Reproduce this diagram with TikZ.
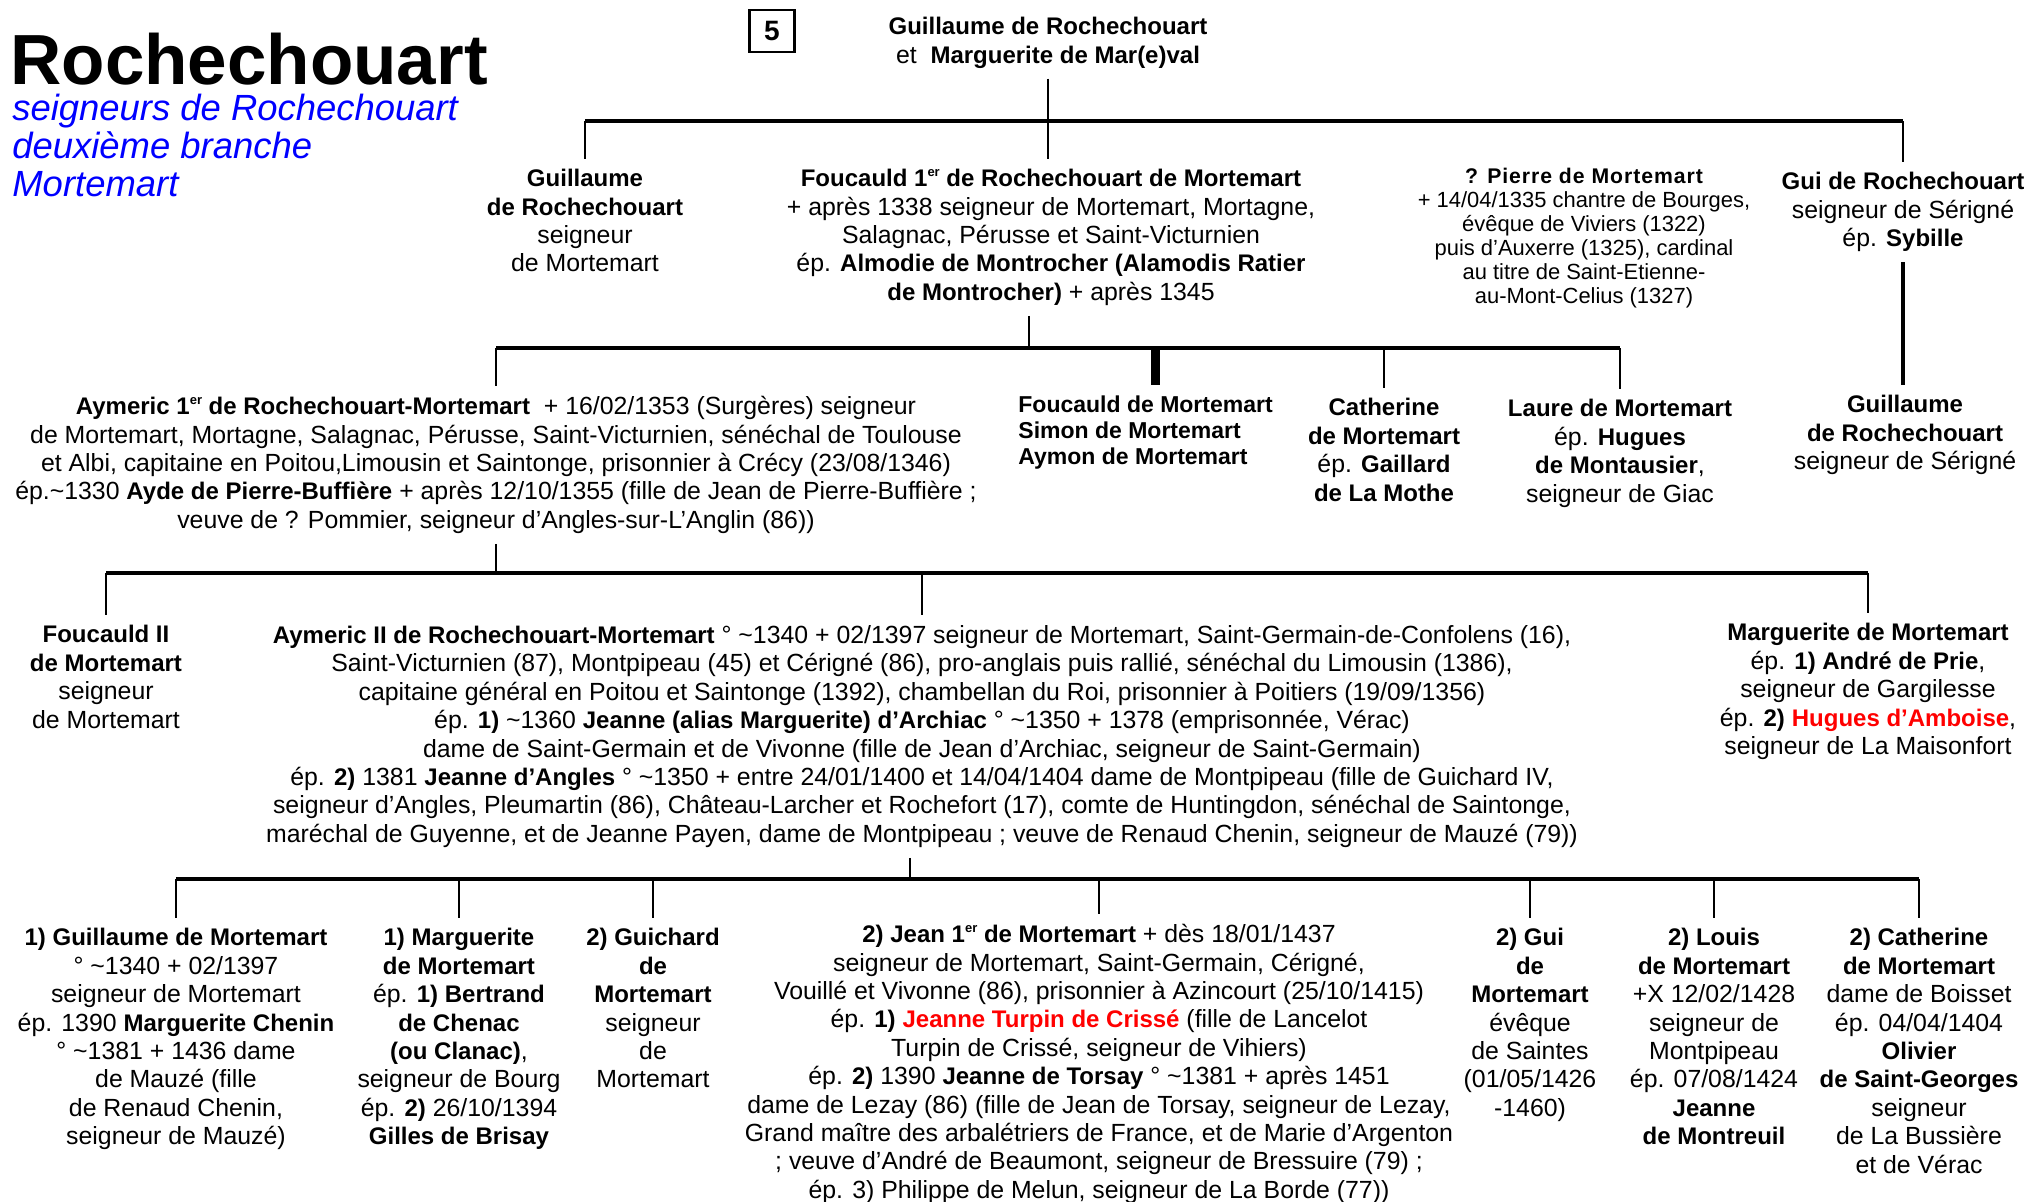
\documentclass[tikz,border=0pt]{standalone}
\usepackage{fontspec}
\setmainfont{Liberation Sans}[Scale=1.035,BoldFont={Liberation Sans Bold},BoldFeatures={Scale=1}]
\usetikzlibrary{calc}
\newcommand{\tld}{\textasciitilde}
\newcommand{\exps}[1]{\raisebox{0.42em}{\fontsize{6.5}{7}\selectfont #1}}

\begin{document}
\begin{tikzpicture}
   [x=0.5pt,y=-0.5pt,
    pers/.style={align=center,inner xsep=0pt,inner ysep=5pt,anchor=north,
        font=\fontsize{12}{14.2}\selectfont},
    small/.style={pers,font=\fontsize{10.6}{12}\selectfont},
    sub/.style={anchor=base west,inner sep=0pt,text=blue,
        font=\fontsize{17.6}{19}\selectfont\itshape},
    bar/.style={line width=2pt},
    drop/.style={line width=1.3pt}]
\useasboundingbox (0,0) rectangle (2024,1201);

\node [anchor=base west,inner sep=0pt,font=\fontsize{35.5}{38}\selectfont\bfseries] (ttl) at (10,84) {Rochechouart};
\node [sub] (s1) at (12,120) {seigneurs de Rochechouart};
\node [sub] (s2) at ($(s1.base west)+(0,38)$) {deuxième branche};
\node [sub] (s3) at ($(s2.base west)+(0,38)$) {Mortemart};
\node [draw,line width=1.2pt,minimum width=22.5pt,minimum height=21pt,font=\fontsize{14}{16}\selectfont\bfseries] (num) at (772,31) {5};

\node [pers] (couple) at (1048,7) {\textbf{Guillaume de Rochechouart}\\et\ \ \textbf{Marguerite de Mar(e)val}};

\node [pers] (g1) at (585,159) {\textbf{Guillaume}\\\textbf{de Rochechouart}\\seigneur\\de Mortemart};
\node [pers] (f1) at (1051,159) {\textbf{Foucauld 1\exps{er} de Rochechouart de Mortemart}\\
+ après 1338 seigneur de Mortemart, Mortagne,\\Salagnac, Pérusse et Saint-Victurnien\\
ép. \textbf{Almodie de Montrocher (Alamodis Ratier}\\\textbf{de Montrocher)} + après 1345};
\node [small] (p1) at (1584,158) {{\bfseries\addfontfeature{LetterSpace=4.5}? Pierre de Mortemart}\\+ 14/04/1335 chantre de Bourges,\\
évêque de Viviers (1322)\\puis d’Auxerre (1325), cardinal\\au titre de Saint-Etienne-\\au-Mont-Celius (1327)};
\node [pers] (gui1) at (1903,162) {\textbf{Gui de Rochechouart}\\seigneur de Sérigné\\ép. \textbf{Sybille}};
\node [pers] (gs) at (1905,385) {\textbf{Guillaume}\\\textbf{de Rochechouart}\\seigneur de Sérigné};

\node [pers] (a1) at (496,386) {\textbf{Aymeric 1\exps{er} de Rochechouart-Mortemart}\ \ + 16/02/1353 (Surgères) seigneur\\
de Mortemart, Mortagne, Salagnac, Pérusse, Saint-Victurnien, sénéchal de Toulouse\\
et Albi, capitaine en Poitou,Limousin et Saintonge, prisonnier à Crécy (23/08/1346)\\
ép.\tld 1330 \textbf{Ayde de Pierre-Buffière} + après 12/10/1355 (fille de Jean de Pierre-Buffière ;\\
veuve de ? Pommier, seigneur d’Angles-sur-L’Anglin (86))};
\node [pers,anchor=north west,align=left,font=\fontsize{11.5}{13}\selectfont\bfseries] (fsa) at (1018,385)
{Foucauld de Mortemart\\Simon de Mortemart\\Aymon de Mortemart};
\node [pers] (c1) at (1384,388) {\textbf{Catherine}\\\textbf{de Mortemart}\\ép. \textbf{Gaillard}\\\textbf{de La Mothe}};
\node [pers] (l1) at (1620,389) {\textbf{Laure de Mortemart}\\ép. \textbf{Hugues}\\\textbf{de Montausier},\\seigneur de Giac};

\node [pers] (f2) at (106,615) {\textbf{Foucauld II}\\\textbf{de Mortemart}\\seigneur\\de Mortemart};
\node [pers] (a2) at (922,615) {\textbf{Aymeric II de Rochechouart-Mortemart} ° \tld1340 + 02/1397 seigneur de Mortemart, Saint-Germain-de-Confolens (16),\\
Saint-Victurnien (87), Montpipeau (45) et Cérigné (86), pro-anglais puis rallié, sénéchal du Limousin (1386),\\
capitaine général en Poitou et Saintonge (1392), chambellan du Roi, prisonnier à Poitiers (19/09/1356)\\
ép. \textbf{1)} \tld1360 \textbf{Jeanne (alias Marguerite) d’Archiac} ° \tld1350 + 1378 (emprisonnée, Vérac)\\
dame de Saint-Germain et de Vivonne (fille de Jean d’Archiac, seigneur de Saint-Germain)\\
ép. \textbf{2)} 1381 \textbf{Jeanne d’Angles} ° \tld1350 + entre 24/01/1400 et 14/04/1404 dame de Montpipeau (fille de Guichard IV,\\
seigneur d’Angles, Pleumartin (86), Château-Larcher et Rochefort (17), comte de Huntingdon, sénéchal de Saintonge,\\
maréchal de Guyenne, et de Jeanne Payen, dame de Montpipeau ; veuve de Renaud Chenin, seigneur de Mauzé (79))};
\node [pers] (m2) at (1868,613) {\textbf{Marguerite de Mortemart}\\ép. \textbf{1) André de Prie},\\seigneur de Gargilesse\\
ép. \textbf{2)} \textcolor{red}{\textbf{Hugues d’Amboise}},\\seigneur de La Maisonfort};

\node [pers] (gm) at (176,918) {\textbf{1) Guillaume de Mortemart}\\° \tld1340 + 02/1397\\seigneur de Mortemart\\
ép. 1390 \textbf{Marguerite Chenin}\\° \tld1381 + 1436 dame\\de Mauzé (fille\\de Renaud Chenin,\\seigneur de Mauzé)};
\node [pers] (mm) at (459,918) {\textbf{1) Marguerite}\\\textbf{de Mortemart}\\ép. \textbf{1) Bertrand}\\\textbf{de Chenac}\\
\textbf{(ou Clanac)},\\seigneur de Bourg\\ép. \textbf{2)} 26/10/1394\\\textbf{Gilles de Brisay}};
\node [pers] (gch) at (653,918) {\textbf{2) Guichard}\\\textbf{de}\\\textbf{Mortemart}\\seigneur\\de\\Mortemart};
\node [pers] (jm) at (1099,914) {\textbf{2) Jean 1\exps{er} de Mortemart} + dès 18/01/1437\\
seigneur de Mortemart, Saint-Germain, Cérigné,\\Vouillé et Vivonne (86), prisonnier à Azincourt (25/10/1415)\\
ép. \textbf{1)} \textcolor{red}{\textbf{Jeanne Turpin de Crissé}} (fille de Lancelot\\Turpin de Crissé, seigneur de Vihiers)\\
ép. \textbf{2)} 1390 \textbf{Jeanne de Torsay} ° \tld1381 + après 1451\\
dame de Lezay (86) (fille de Jean de Torsay, seigneur de Lezay,\\Grand maître des arbalétriers de France, et de Marie d’Argenton\\
; veuve d’André de Beaumont, seigneur de Bressuire (79) ;\\ép. 3) Philippe de Melun, seigneur de La Borde (77))};
\node [pers] (gu) at (1530,918) {\textbf{2) Gui}\\\textbf{de}\\\textbf{Mortemart}\\évêque\\de Saintes\\(01/05/1426\\-1460)};
\node [pers] (lo) at (1714,918) {\textbf{2) Louis}\\\textbf{de Mortemart}\\+X 12/02/1428\\seigneur de\\Montpipeau\\
ép. 07/08/1424\\\textbf{Jeanne}\\\textbf{de Montreuil}};
\node [pers] (ca) at (1919,918) {\textbf{2) Catherine}\\\textbf{de Mortemart}\\dame de Boisset\\ép. 04/04/1404\\
\textbf{Olivier}\\\textbf{de Saint-Georges}\\seigneur\\de La Bussière\\et de Vérac};

\coordinate (r1) at (0,121);
\coordinate (r2) at (0,348);
\coordinate (r3) at (0,573);
\coordinate (r4) at (0,879);

\draw [drop] (couple.south) -- (couple.south |- f1.north);
\draw [bar] (g1 |- r1) -- (gui1 |- r1);
\foreach \n in {g1,gui1} \draw [drop] (\n |- r1) -- (\n.north);
\draw [bar] (gui1.south) -- (gui1.south |- gs.north);

\draw [drop] ([xshift=-11pt]f1.south) -- ([xshift=-11pt]f1.south |- r2);
\draw [bar] (a1 |- r2) -- (l1 |- r2);
\foreach \n in {a1,c1,l1} \draw [drop] (\n |- r2) -- (\n.north);
\draw [line width=4.5pt] ([xshift=5pt]fsa.north |- r2) -- ([xshift=5pt]fsa.north);

\draw [drop] (a1.south) -- (a1.south |- r3);
\draw [bar] (f2 |- r3) -- (m2 |- r3);
\foreach \n in {f2,a2,m2} \draw [drop] (\n |- r3) -- (\n.north);

\draw [drop] ([xshift=-6pt]a2.south) -- ([xshift=-6pt]a2.south |- r4);
\draw [bar] (gm |- r4) -- (ca |- r4);
\foreach \n in {gm,mm,gch,jm,gu,lo,ca} \draw [drop] (\n |- r4) -- (\n.north);
\end{tikzpicture}
\end{document}
